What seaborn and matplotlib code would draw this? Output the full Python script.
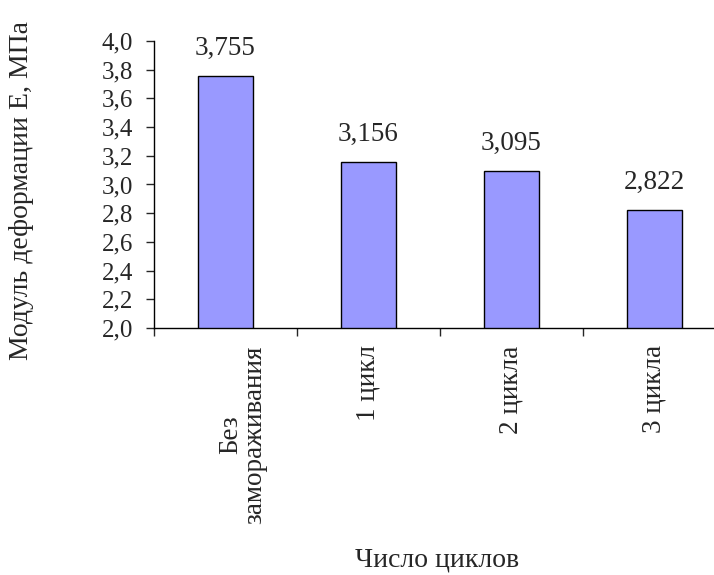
import matplotlib
matplotlib.use("Agg")
import matplotlib.pyplot as plt
import matplotlib.ticker as mticker
import matplotlib.transforms as mtransforms
import seaborn as sns
import pandas as pd

# Deformation modulus vs. number of freeze-thaw cycles
categories = ["Без\nзамораживания", "1 цикл", "2 цикла", "3 цикла"]
modulus = [3.755, 3.156, 3.095, 2.822]
y_ticks = [2.0, 2.2, 2.4, 2.6, 2.8, 3.0, 3.2, 3.4, 3.6, 3.8, 4.0]

sns.set_style("ticks")
plt.rcParams["font.family"] = ["Liberation Serif", "DejaVu Serif"]

df = pd.DataFrame({"cycles": categories, "E": modulus})

fig = plt.figure(figsize=(7.14, 5.75), dpi=100)
ax = fig.add_axes([0.2157, 0.4296, 0.801, 0.4991])

sns.barplot(data=df, x="cycles", y="E", color="#9999FF", saturation=1,
            edgecolor="black", linewidth=1.0, width=0.39, ax=ax)

ax.set_xlim(-0.5, len(categories) - 0.5)
ax.set_ylim(2.0, 4.0)
ax.set_yticks(y_ticks)
ax.yaxis.set_major_formatter(mticker.FuncFormatter(lambda v, p: f"{v:.1f}".replace(".", ",")))
ax.tick_params(axis="y", direction="out", length=6, width=1, pad=9, labelsize=18)

# category labels at bar centres, tick marks at the category boundaries
ax.set_xticks(range(len(categories)))
ax.set_xticklabels(categories, rotation=90, va="top", ha="center",
                   multialignment="center", fontsize=19.5, linespacing=0.95)
ax.tick_params(axis="x", which="major", length=0, pad=12.5)
ax.set_xticks([i - 0.5 for i in range(len(categories) + 1)], minor=True)
ax.tick_params(axis="x", which="minor", direction="out", length=6, width=1)

# the two-line label sits a little to the right of its bar
first = ax.get_xticklabels()[0]
first.set_transform(first.get_transform() +
                    mtransforms.ScaledTranslation(17 / 100, 0, fig.dpi_scale_trans))

for side in ("top", "right"):
    ax.spines[side].set_visible(False)
for side in ("left", "bottom"):
    ax.spines[side].set_linewidth(1)
    ax.spines[side].set_color("black")

ax.set_xlabel("")
ax.set_ylabel("")

for container in ax.containers:
    ax.bar_label(container, labels=[f"{v:.3f}".replace(".", ",") for v in modulus],
                 padding=11, fontsize=19.5)

fig.text(22 / 714, 1 - 191 / 575, "Модуль деформации Е, МПа", rotation=90,
         ha="center", va="center", fontsize=20)
fig.text(437 / 714, 1 - 566 / 575, "Число циклов", ha="center", va="baseline", fontsize=20)

fig.savefig("out.png", dpi=100, facecolor="white")
